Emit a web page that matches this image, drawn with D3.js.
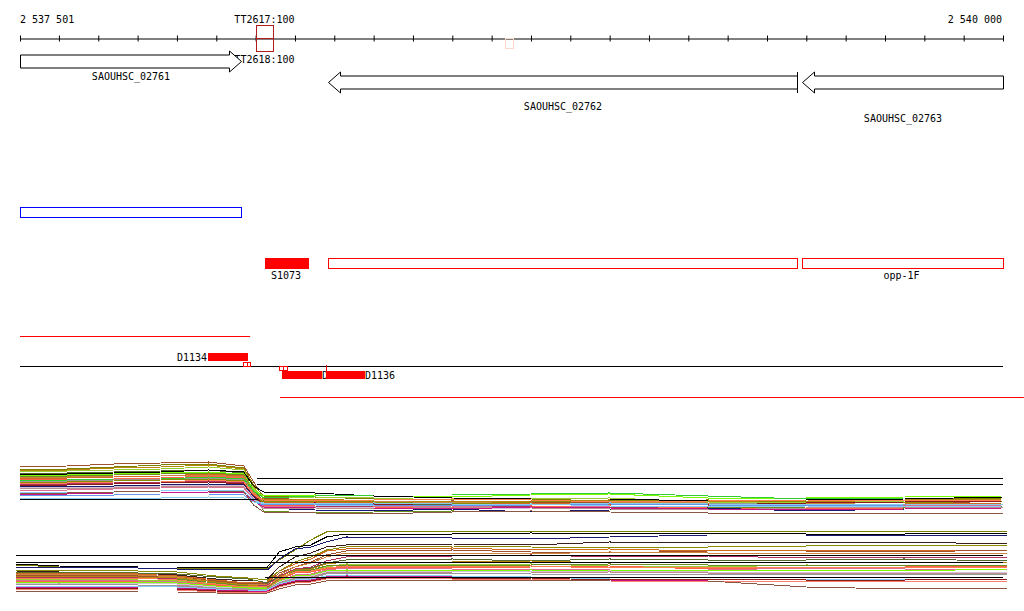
<!DOCTYPE html>
<html><head><meta charset="utf-8">
<script src="https://cdn.jsdelivr.net/npm/d3@7"></script>
<style>
body{margin:0;background:#fff;}
svg{display:block;}
text{font-family:"DejaVu Sans Mono",monospace;font-size:10px;fill:#000;}
</style></head><body>
<svg id="c" width="1024" height="611"></svg>
<script>
// ---------- data ----------
const axisDomain = [2537501, 2540000];
const axisTicks = [2537501,2537600,2537700,2537800,2537900,2538000,2538100,2538200,2538300,2538400,2538500,2538600,2538700,2538800,2538900,2539000,2539100,2539200,2539300,2539400,2539500,2539600,2539700,2539800,2539900,2540000];
const axisLabels = ["2 537 501", "2 540 000"];

const terminator = {start: 2538101, end: 2538144, top: "TT2617:100", bottom: "TT2618:100"};
const faintMark = {start: 2538734, end: 2538754};

const geneNames = ["SAOUHSC_02761", "SAOUHSC_02762", "SAOUHSC_02763"];
const geneStarts = [2537501, 2538284, 2539489];
const geneEnds = [2538062, 2539476, 2540000];
const geneStrands = [1, -1, -1];

const blueFeature = {start: 2537501, end: 2538062};

const redNames = ["S1073", "", "opp-1F"];
const redStarts = [2538124, 2538284, 2539489];
const redEnds = [2538236, 2539476, 2540000];
const redFilled = [true, false, false];

const lineFeatures = [
  {start: 2537501, end: 2538086, color: "#ff0000", row: 0},
  {start: 2537501, end: 2540000, color: "#000000", row: 1},
  {start: 2538162, end: 2540053, color: "#ff0000", row: 2}
];

const dNames = ["D1134", "D1135", "D1136"];
const dStarts = [2537979, 2538167, 2538279];
const dEnds = [2538081, 2538269, 2538378];
const dStrands = [1, -1, -1];
const smallBoxes = [
  [2538068, 2538077, 1], [2538077, 2538086, 1],
  [2538159, 2538170, -1], [2538170, 2538180, -1]
];

// panel 1 (probe signal)
const p1Pos = [2537501,2537620,2537740,2537860,2537980,2538070,2538095,2538120,2538250,2538400,2538600,2538800,2539000,2539250,2539500,2539750,2540000];
const p1Colors = ["#a0522d","#808000","#b8860b","#9acd32","#556b2f","#7cfc00","#6b8e23","#d2691e","#cd853f","#ff6347","#999999","#8b8b00","#b03060","#8b1a1a","#191970","#d8bfd8","#bc8f8f","#db7093","#87cefa","#c71585","#6495ed","#87ceeb","#8b5742","#000000","#32cd32","#ff7f50"];
const p1Values = [
  [53,54,56,57,58, 54,38,22, 20,18,19,18,17,15,14,16,19],
  [51,51,53,55,56, 52,35,24, 23,21,20,21,19,18,20,21,22],
  [50,50,52,53,55, 51,33,21, 21,19,18,19,20,19,18,20,21],
  [49,49,50,51,53, 50,32,22, 23,22,20,21,22,18,17,19,20],
  [47,47,48,49,50, 47,30,19, 17,16,15,14,13,11,10,12,14],
  [45,45,46,47,48, 46,30,24, 25,24,23,25,26,22,22,23,24],
  [44,44,45,46,47, 45,28,9,  7,8,9,8,10,12,13,12,14],
  [42,42,43,44,46, 44,27,17, 18,17,16,17,15,16,14,16,17],
  [43,43,44,44,45, 43,28,18, 19,19,17,18,18,17,16,18,18],
  [41,41,41,42,44, 42,26,15, 14,13,12,14,13,12,11,12,13],
  [39,39,40,41,42, 40,25,16, 15,16,17,15,16,17,16,15,16],
  [38,38,39,40,41, 39,24,18, 19,18,16,18,19,20,18,17,19],
  [36,36,37,38,39, 37,25,14, 13,14,15,13,12,14,15,14,16],
  [35,35,36,37,38, 36,24,16, 17,16,14,15,16,15,17,18,19],
  [34,34,34,35,36, 35,23,12, 10,9,11,8,10,12,9,11,13],
  [33,33,33,34,35, 34,22,12, 13,12,11,12,13,13,14,15,15],
  [32,32,32,33,34, 33,21,11, 12,11,13,12,11,10,12,13,12],
  [30,30,31,32,33, 32,21,14, 13,13,14,12,14,13,15,14,15],
  [28,28,28,29,30, 29,20,16, 15,14,15,16,14,13,14,13,14],
  [26,26,27,27,28, 27,19,13, 12,12,11,13,12,11,10,11,12],
  [25,25,25,26,26, 25,18,15, 16,15,14,15,16,15,14,15,16],
  [22,22,22,22,23, 22,18,17, 16,17,16,15,17,16,15,16,15],
  [27,27,28,29,29, 28,15,8,  7,6,8,9,8,7,6,7,7],
  [46,46,47,48,50, 48,34,28, 27,24,22,21,21,19,20,21,23],
  [40,40,41,41,43, 41,29,22, 24,25,25,26,27,24,21,22,22],
  [37,37,38,38,40, 38,25,20, 19,20,21,20,18,19,20,19,20]
];
const p1RefLines = [[21, 2537501, 2538105], [42, 2538103, 2540000], [36, 2538103, 2540000]];

// panel 2 (probe signal)
const p2Pos = [2537491,2537600,2537800,2537900,2538000,2538080,2538130,2538160,2538200,2538240,2538280,2538330,2538600,2538800,2539000,2539250,2539500,2539750,2540010];
const p2Colors = ["#808000","#000000","#191970","#3b1f1f","#d2691e","#a0522d","#cd853f","#b03060","#556b2f","#b8860b","#9acd32","#ff6347","#db7093","#7cfc00","#d8bfd8","#bc8f8f","#999999","#87cefa","#c71585","#8b1a1a","#fa8072","#8b5742","#6b8e23","#8b8b00","#ff7f50"];
const p2Values = [
  [32,30,29,29,29,29,29,37,47,57,65,66,66,66,65,66,66,65,66],
  [33,31,30,30,30,30,30,45,50,52,60,63,63,64,63,64,63,63,64],
  [30,30,29,28,28,28,27,38,48,50,55,60,59,58,60,62,62,61,62],
  [26,25,24,22,18,16,18,30,40,44,50,52,53,52,55,54,55,55,53],
  [24,24,23,21,17,14,15,26,33,38,46,48,49,47,48,46,47,47,46],
  [22,22,21,20,16,13,14,24,30,35,42,46,47,45,44,46,46,45,47],
  [23,23,22,20,15,12,13,22,30,34,40,44,44,43,45,44,44,43,44],
  [20,20,19,18,14,11,12,21,28,30,36,40,41,42,40,41,39,40,40],
  [25,25,24,23,20,18,14,20,27,29,34,37,38,36,38,37,37,38,36],
  [21,21,20,19,15,12,10,20,27,28,33,35,35,36,34,35,34,35,34],
  [18,18,17,16,13,10,9,18,25,26,30,33,32,33,31,30,32,31,32],
  [16,16,16,15,12,9,9,17,24,25,28,30,29,30,31,28,29,30,31],
  [17,17,16,15,11,8,8,16,22,23,27,29,28,28,27,27,29,28,27],
  [15,15,15,14,11,9,8,16,21,22,26,27,26,27,26,27,27,26,28],
  [14,14,14,13,10,8,8,15,20,21,25,26,26,25,26,25,24,25,25],
  [12,13,12,12,9,7,7,14,19,20,24,25,24,24,25,24,23,24,24],
  [13,13,12,11,9,8,8,14,18,19,23,24,24,23,22,23,22,23,22],
  [11,11,11,10,8,6,7,13,17,18,21,22,21,20,18,17,18,18,17],
  [10,10,9,9,7,6,6,12,16,17,20,21,20,19,17,16,16,15,16],
  [9,9,8,8,6,5,5,11,15,16,19,20,19,19,17,18,17,17,18],
  [8,8,7,7,5,4,5,10,14,15,18,19,18,18,16,15,16,15,16],
  [6,6,5,5,4,3,4,8,12,13,16,17,17,17,16,16,10,8,9],
  [19,19,18,18,14,11,10,18,26,27,31,32,31,32,33,32,31,32,31],
  [27,27,26,25,21,19,17,26,35,40,47,50,51,50,49,50,51,52,51],
  [19,19,19,17,13,10,11,19,25,26,29,31,30,31,29,30,30,29,30]
];
const p2RefLines = [[42, 2537491, 2540000], [35, 2537491, 2540000], [20, 2538125, 2540000]];

// ---------- drawing ----------
const svg = d3.select("#c");
const x = d3.scaleLinear().domain(axisDomain).range([20, 1003]);

// axis
const axG = svg.append("g").attr("transform", "translate(0,38.5)");
axG.call(d3.axisBottom(x).tickValues(axisTicks).tickSize(3).tickSizeOuter(0).tickFormat(""));
axG.select(".domain").attr("stroke", "#000");
axG.selectAll(".tick line").attr("y1", -3).attr("stroke", "#000");
svg.append("text").attr("x", x(axisDomain[0])).attr("y", 23).text(axisLabels[0]);
svg.append("text").attr("x", x(axisDomain[1]) - 1).attr("y", 23).attr("text-anchor", "end").text(axisLabels[1]);

// terminator
const tx0 = x(terminator.start), tx1 = x(terminator.end);
svg.append("rect").attr("x", Math.round(tx0) + 0.5).attr("y", 25.5).attr("width", Math.round(tx1 - tx0)).attr("height", 26)
  .attr("fill", "none").attr("stroke", "#b01c1c");
svg.append("line").attr("x1", tx0).attr("x2", tx1).attr("y1", 38.5).attr("y2", 38.5).attr("stroke", "#b01c1c");
svg.append("text").attr("x", (tx0 + tx1) / 2).attr("y", 23).attr("text-anchor", "middle").text(terminator.top);
svg.append("text").attr("x", (tx0 + tx1) / 2).attr("y", 63).attr("text-anchor", "middle").text(terminator.bottom);
// faint mark
svg.append("rect").attr("x", Math.round(x(faintMark.start)) + 0.5).attr("y", 38.5)
  .attr("width", Math.round(x(faintMark.end) - x(faintMark.start))).attr("height", 10)
  .attr("fill", "none").attr("stroke", "#fbd9cc");

// genes
const geneRowY = [61.5, 82.5, 82.5];
const geneLabelY = [80, 110, 122];
geneNames.forEach((name, i) => {
  const x0 = Math.round(x(geneStarts[i])) + 0.5, x1 = Math.round(x(geneEnds[i])) + 0.5, cy = geneRowY[i];
  const b = 6.5, hh = 10.5, hl = 12;
  let pts;
  if (geneStrands[i] > 0) {
    pts = [[x0, cy - b], [x1 - hl, cy - b], [x1 - hl, cy - hh], [x1, cy], [x1 - hl, cy + hh], [x1 - hl, cy + b], [x0, cy + b]];
  } else {
    pts = [[x1, cy - b], [x0 + hl, cy - b], [x0 + hl, cy - hh], [x0, cy], [x0 + hl, cy + hh], [x0 + hl, cy + b], [x1, cy + b]];
  }
  svg.append("path").attr("d", d3.line()(pts) + "Z").attr("fill", "#fff").attr("stroke", "#000");
  if (i === 1) {
    svg.append("line").attr("x1", x1).attr("x2", x1).attr("y1", cy - hh).attr("y2", cy + hh).attr("stroke", "#000");
  }
  svg.append("text").attr("x", (x0 + x1) / 2).attr("y", geneLabelY[i]).attr("text-anchor", "middle").text(name);
});

// blue feature
svg.append("rect").attr("x", Math.round(x(blueFeature.start)) + 0.5).attr("y", 207.5)
  .attr("width", Math.round(x(blueFeature.end) - x(blueFeature.start))).attr("height", 10)
  .attr("fill", "none").attr("stroke", "#0000ff");

// red features
redNames.forEach((name, i) => {
  const x0 = Math.round(x(redStarts[i])), x1 = Math.round(x(redEnds[i]));
  if (redFilled[i]) {
    svg.append("rect").attr("x", x0).attr("y", 258).attr("width", x1 - x0).attr("height", 11).attr("fill", "#ff0000");
  } else {
    svg.append("rect").attr("x", x0 + 0.5).attr("y", 258.5).attr("width", x1 - x0).attr("height", 10)
      .attr("fill", "none").attr("stroke", "#ff0000");
  }
  if (name) svg.append("text").attr("x", (x0 + x1) / 2 - 1).attr("y", 279).attr("text-anchor", "middle").text(name);
});

// line features
const lineRowY = [336.5, 366.5, 397.5];
lineFeatures.forEach(f => {
  svg.append("line").attr("x1", x(f.start)).attr("x2", x(f.end)).attr("y1", lineRowY[f.row]).attr("y2", lineRowY[f.row])
    .attr("stroke", f.color);
});

// small boxes
smallBoxes.forEach(([s, e, st]) => {
  const x0 = Math.round(x(s)), x1 = Math.round(x(e));
  svg.append("rect").attr("x", x0 + 0.5).attr("y", st > 0 ? 362.5 : 366.5).attr("width", Math.max(1, x1 - x0)).attr("height", 4)
    .attr("fill", "none").attr("stroke", "#ff0000");
});
// D features
dNames.forEach((name, i) => {
  const x0 = Math.round(x(dStarts[i])), x1 = Math.round(x(dEnds[i]));
  if (dStrands[i] > 0) {
    svg.append("text").attr("x", x0 - 1).attr("y", 361).attr("text-anchor", "end").text(name);
  } else {
    svg.append("text").attr("x", x1).attr("y", 379).text(name);
  }
});
dNames.forEach((name, i) => {
  const x0 = Math.round(x(dStarts[i])), x1 = Math.round(x(dEnds[i]));
  const y0 = dStrands[i] > 0 ? 353 : 371;
  svg.append("rect").attr("x", x0).attr("y", y0).attr("width", x1 - x0).attr("height", 8).attr("fill", "#ff0000");
  if (i === 2) {
    svg.append("line").attr("x1", x0 + 0.5).attr("x2", x0 + 0.5).attr("y1", 365).attr("y2", 371).attr("stroke", "#ff0000");
  }
});

// signal panels
function panel(pos, colors, values, refLines, y) {
  const g = svg.append("g").attr("shape-rendering", "crispEdges");
  const line = d3.line().curve(d3.curveLinear).x((d, j) => x(pos[j])).y(d => y(d));
  values.forEach((vals, k) => {
    g.append("path").attr("d", line(vals)).attr("fill", "none").attr("stroke", colors[k]).attr("stroke-width", 1);
  });
  refLines.forEach(([v, s, e]) => {
    g.append("line").attr("x1", x(s)).attr("x2", x(e)).attr("y1", y(v) + 0.5).attr("y2", y(v) + 0.5).attr("stroke", "#000");
  });
}
const y1 = d3.scaleLinear().domain([0, 60]).range([520, 460]);
const y2 = d3.scaleLinear().domain([0, 70]).range([597, 527]);
panel(p1Pos, p1Colors, p1Values, p1RefLines, y1);
panel(p2Pos, p2Colors, p2Values, p2RefLines, y2);
</script>
</body></html>
